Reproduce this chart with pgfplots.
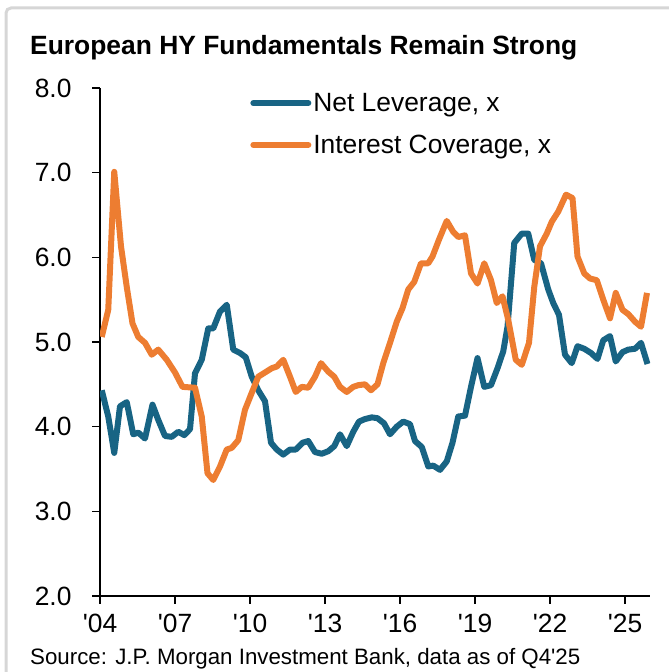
\documentclass[border=0pt]{standalone}
\usepackage{fontspec}
\setmainfont{Liberation Sans}
\usepackage{pgfplots}
\pgfplotsset{compat=1.18}
\definecolor{nlblue}{RGB}{24,100,132}
\definecolor{icorange}{RGB}{237,125,49}
\definecolor{framegrey}{RGB}{214,214,214}
\newcommand{\q}{\textquotesingle}
\begin{document}
\begin{tikzpicture}
\useasboundingbox (0,0) rectangle (669bp,672bp);
\draw[framegrey, line width=3bp, rounded corners=5bp] (6bp,-2bp) -- (6bp,664bp) -- (671bp,664bp);
\node[anchor=base west, font=\bfseries\fontsize{26.4bp}{30bp}\selectfont, inner sep=0pt] at (30bp,617bp) {European HY Fundamentals Remain Strong};
\node[anchor=base west, font=\fontsize{22.3bp}{26bp}\selectfont, inner sep=0pt] at (30bp,8bp) {Source: J.P. Morgan Investment Bank, data as of Q4\q25};
\begin{axis}[
  scale only axis, width=550bp, height=508bp,
  anchor=south west, at={(100bp,76bp)},
  xmin=2004, xmax=2026, ymin=2, ymax=8,
  axis x line*=bottom, axis y line*=left,
  axis line style={line width=1.2bp, black},
  xtick={2004,2007,...,2025},
  xticklabels={{\q04},{\q07},{\q10},{\q13},{\q16},{\q19},{\q22},{\q25}},
  ytick={2,3,...,8},
  /pgf/number format/assume math mode=true,
  yticklabel style={xshift=-17bp, /pgf/number format/fixed, /pgf/number format/fixed zerofill, /pgf/number format/precision=1},
  xticklabel style={yshift=-7bp},
  tick label style={font=\fontsize{26.4bp}{30bp}\selectfont, black},
  major tick length=8bp, tick align=outside,
  tick style={line width=1.2bp, black},
  legend style={at={(0.273,0.994)}, anchor=north west, draw=none, fill=none,
    font=\fontsize{26.4bp}{30bp}\selectfont, row sep=18bp, inner sep=0pt, nodes={inner sep=2bp}},
  legend cell align=left,
  legend image code/.code={\draw[#1, line cap=round] (0bp,0bp) -- (55bp,0bp);},
  every axis plot/.append style={line width=6bp, line join=round, no markers},
]
\addplot[nlblue] coordinates {
(2004.07,4.43)(2004.33,4.12)(2004.57,3.69)(2004.80,4.24)(2005.07,4.29)(2005.33,3.91)
(2005.53,3.93)(2005.80,3.86)(2006.10,4.26)(2006.33,4.08)(2006.60,3.89)(2006.87,3.88)
(2007.13,3.94)(2007.37,3.90)(2007.60,3.97)(2007.80,4.63)(2008.07,4.79)(2008.33,5.16)
(2008.53,5.16)(2008.80,5.36)(2009.07,5.44)(2009.33,4.91)(2009.60,4.87)(2009.83,4.82)
(2010.07,4.59)(2010.33,4.43)(2010.60,4.30)(2010.84,3.81)(2011.07,3.73)(2011.33,3.67)
(2011.60,3.73)(2011.83,3.73)(2012.10,3.81)(2012.33,3.83)(2012.60,3.70)(2012.87,3.68)
(2013.13,3.71)(2013.37,3.77)(2013.60,3.91)(2013.87,3.77)(2014.13,3.94)(2014.36,4.06)
(2014.60,4.09)(2014.87,4.11)(2015.10,4.10)(2015.36,4.04)(2015.60,3.91)(2015.87,4.00)
(2016.13,4.06)(2016.40,4.03)(2016.60,3.83)(2016.87,3.76)(2017.13,3.53)(2017.33,3.54)
(2017.60,3.49)(2017.87,3.59)(2018.10,3.81)(2018.33,4.12)(2018.60,4.13)(2018.84,4.47)
(2019.10,4.81)(2019.37,4.47)(2019.64,4.49)(2019.90,4.69)(2020.13,4.89)(2020.30,5.18)
(2020.57,6.17)(2020.87,6.28)(2021.13,6.28)(2021.37,5.97)(2021.64,5.93)(2021.93,5.62)
(2022.13,5.46)(2022.36,5.32)(2022.60,4.85)(2022.87,4.75)(2023.10,4.95)(2023.37,4.92)
(2023.64,4.87)(2023.90,4.80)(2024.13,5.02)(2024.40,5.07)(2024.63,4.77)(2024.90,4.88)
(2025.13,4.91)(2025.40,4.92)(2025.64,4.99)(2025.90,4.74)
};
\addlegendentry{Net Leverage, x}
\addplot[icorange] coordinates {
(2004.07,5.06)(2004.33,5.38)(2004.57,7.01)(2004.84,6.13)(2005.07,5.65)(2005.30,5.22)
(2005.53,5.06)(2005.80,4.99)(2006.07,4.85)(2006.33,4.91)(2006.67,4.79)(2007.00,4.64)
(2007.30,4.47)(2007.80,4.46)(2008.07,4.12)(2008.30,3.45)(2008.53,3.37)(2008.80,3.53)
(2009.07,3.73)(2009.27,3.75)(2009.53,3.84)(2009.80,4.20)(2010.07,4.40)(2010.33,4.59)
(2010.60,4.64)(2010.87,4.69)(2011.07,4.71)(2011.33,4.79)(2011.60,4.59)(2011.83,4.41)
(2012.07,4.47)(2012.33,4.46)(2012.60,4.59)(2012.84,4.75)(2013.13,4.65)(2013.37,4.59)
(2013.60,4.47)(2013.87,4.41)(2014.13,4.47)(2014.33,4.49)(2014.60,4.50)(2014.84,4.43)
(2015.10,4.50)(2015.33,4.75)(2015.60,4.99)(2015.87,5.24)(2016.10,5.40)(2016.33,5.62)
(2016.57,5.71)(2016.84,5.93)(2017.13,5.93)(2017.30,6.01)(2017.56,6.21)(2017.87,6.43)
(2018.13,6.30)(2018.33,6.24)(2018.60,6.26)(2018.84,5.81)(2019.10,5.69)(2019.37,5.93)
(2019.64,5.73)(2019.87,5.46)(2020.10,5.54)(2020.33,5.26)(2020.63,4.79)(2020.87,4.73)
(2021.16,4.99)(2021.37,5.65)(2021.60,6.13)(2021.87,6.28)(2022.07,6.42)(2022.33,6.54)
(2022.64,6.74)(2022.90,6.70)(2023.10,6.01)(2023.37,5.81)(2023.60,5.75)(2023.87,5.73)
(2024.13,5.50)(2024.40,5.28)(2024.63,5.58)(2024.90,5.38)(2025.13,5.33)(2025.40,5.24)
(2025.64,5.18)(2025.88,5.58)
};
\addlegendentry{Interest Coverage, x}
\end{axis}
\end{tikzpicture}
\end{document}
